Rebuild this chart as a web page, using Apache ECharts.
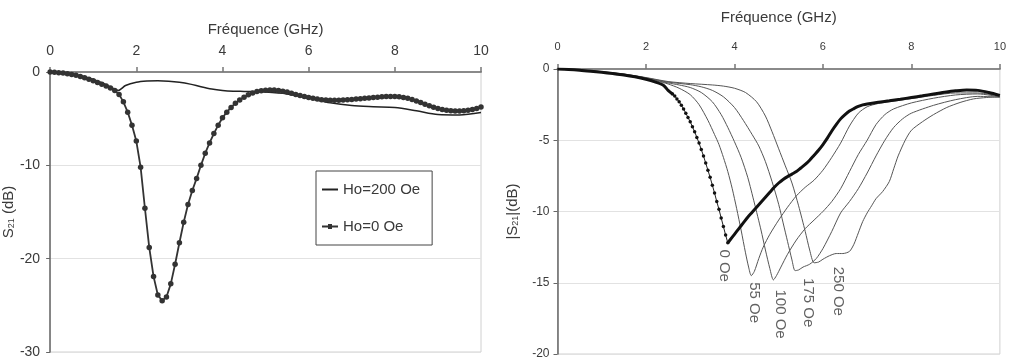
<!DOCTYPE html>
<html>
<head>
<meta charset="utf-8">
<script src="https://cdn.jsdelivr.net/npm/echarts@6/dist/echarts.min.js"></script>
<style>
html,body{margin:0;padding:0;background:#fff;}
#chart{width:1009px;height:362px;}
</style>
</head>
<body>
<div id="chart"></div>
<script>
// ---------- Left panel data (GHz, dB) ----------
const xTicksLeft = [0, 2, 4, 6, 8, 10];
const yTicksLeft = [0, -10, -20, -30];
const legendNames = ['Ho=200 Oe', 'Ho=0 Oe'];

const ho200 = [
  [0,0],[0.25,-0.05],[0.5,-0.2],[0.75,-0.45],[1.0,-0.8],[1.25,-1.25],[1.5,-1.85],[1.58,-1.97],
  [1.75,-1.45],[2.0,-1.1],[2.25,-0.97],[2.5,-0.93],[2.75,-0.98],[3.0,-1.1],[3.25,-1.3],
  [3.5,-1.58],[3.75,-1.82],[4.0,-1.97],[4.25,-2.05],[4.5,-2.08],[5.0,-2.15],[5.5,-2.35],
  [6.0,-2.8],[6.5,-3.3],[7.0,-3.6],[7.5,-3.72],[8.0,-3.8],[8.5,-4.15],[9.0,-4.55],[9.5,-4.6],[10.0,-4.35]
];

const ho0 = [
  [0.0,0],[0.1,-0.03],[0.2,-0.07],[0.3,-0.12],[0.4,-0.18],[0.5,-0.26],[0.6,-0.36],[0.7,-0.48],
  [0.8,-0.62],[0.9,-0.78],[1.0,-0.95],[1.1,-1.12],[1.2,-1.3],[1.3,-1.5],[1.4,-1.72],[1.5,-1.98],
  [1.6,-2.4],[1.7,-3.2],[1.8,-4.3],[1.9,-5.7],[2.0,-7.4],[2.1,-10.2],[2.2,-14.6],[2.3,-18.8],
  [2.4,-21.9],[2.5,-23.9],[2.6,-24.5],[2.7,-24.1],[2.8,-22.7],[2.9,-20.6],[3.0,-18.3],[3.1,-16.1],
  [3.2,-14.2],[3.3,-12.7],[3.4,-11.4],[3.5,-10.0],[3.6,-8.7],[3.7,-7.6],[3.8,-6.6],[3.9,-5.7],
  [4.0,-4.9],[4.1,-4.3],[4.2,-3.8],[4.3,-3.35],[4.4,-3.0],[4.5,-2.7],[4.6,-2.45],[4.7,-2.25],
  [4.8,-2.1],[4.9,-2.0],[5.0,-1.95],[5.1,-1.92],[5.2,-1.93],[5.3,-1.98],[5.4,-2.05],[5.5,-2.15],
  [5.6,-2.27],[5.7,-2.4],[5.8,-2.52],[5.9,-2.63],[6.0,-2.73],[6.1,-2.82],[6.2,-2.9],[6.3,-2.96],
  [6.4,-3.0],[6.5,-3.02],[6.6,-3.03],[6.7,-3.02],[6.8,-3.0],[6.9,-2.97],[7.0,-2.94],[7.1,-2.9],
  [7.2,-2.86],[7.3,-2.82],[7.4,-2.78],[7.5,-2.74],[7.6,-2.7],[7.7,-2.66],[7.8,-2.63],[7.9,-2.62],
  [8.0,-2.62],[8.1,-2.65],[8.2,-2.72],[8.3,-2.82],[8.4,-2.95],[8.5,-3.1],[8.6,-3.28],[8.7,-3.45],
  [8.8,-3.62],[8.9,-3.78],[9.0,-3.92],[9.1,-4.02],[9.2,-4.1],[9.3,-4.15],[9.4,-4.17],[9.5,-4.17],
  [9.6,-4.15],[9.7,-4.1],[9.8,-4.02],[9.9,-3.9],[10.0,-3.75]
];

// ---------- Right panel data (GHz, dB) ----------
const xTicksRight = [0, 2, 4, 6, 8, 10];
const yTicksRight = [0, -5, -10, -15, -20];

const zeroOeStart = [
  [0,0],[0.25,-0.03],[0.5,-0.08],[0.75,-0.15],[1.0,-0.23],[1.25,-0.32],[1.5,-0.42],
  [1.75,-0.55],[2.0,-0.72],[2.2,-0.9],[2.4,-1.15],[2.5,-1.5],[2.6,-1.75]
];
const zeroOeDip = [
  [2.6,-1.75],[2.65,-1.9],[2.7,-2.1],[2.75,-2.3],[2.8,-2.55],[2.85,-2.8],[2.9,-3.1],[2.95,-3.4],
  [3.0,-3.7],[3.05,-4.05],[3.1,-4.4],[3.15,-4.8],[3.2,-5.2],[3.25,-5.65],[3.3,-6.1],[3.35,-6.6],
  [3.4,-7.1],[3.45,-7.6],[3.5,-8.15],[3.55,-8.7],[3.6,-9.3],[3.65,-9.85],[3.7,-10.45],
  [3.75,-11.05],[3.8,-11.65],[3.85,-12.2]
];
const zeroOeRise = [
  [3.85,-12.2],[3.9,-12.0],[4.0,-11.6],[4.1,-11.2],[4.2,-10.8],[4.3,-10.4],[4.4,-10.05],[4.5,-9.7],
  [4.6,-9.35],[4.7,-9.0],[4.8,-8.65],[4.9,-8.3],[5.0,-8.0],[5.1,-7.75],[5.2,-7.55],[5.3,-7.38],
  [5.4,-7.2],[5.5,-6.95],[5.6,-6.7],[5.7,-6.4],[5.8,-6.05],[5.9,-5.7],[6.0,-5.3],[6.1,-4.85],
  [6.2,-4.35],[6.3,-3.9],[6.4,-3.5],[6.5,-3.2],[6.6,-2.95],[6.7,-2.78],[6.8,-2.63],[6.9,-2.52],
  [7.0,-2.45],[7.25,-2.33],[7.5,-2.23],[7.75,-2.12],[8.0,-2.0],[8.25,-1.88],[8.5,-1.75],
  [8.75,-1.63],[9.0,-1.53],[9.25,-1.47],[9.5,-1.5],[9.75,-1.65],[10.0,-1.85]
];
const oe55 = [
  [0,0],[0.5,-0.08],[1,-0.22],[1.5,-0.4],[2,-0.68],[2.25,-0.85],[2.5,-1.05],[2.75,-1.35],[3.0,-1.8],
  [3.2,-2.5],[3.4,-3.6],[3.55,-4.6],[3.65,-5.3],[3.75,-6.2],[3.85,-7.2],[3.95,-8.4],[4.05,-9.8],
  [4.15,-11.3],[4.25,-12.9],[4.32,-13.9],[4.38,-14.5],[4.45,-14.2],[4.55,-13.3],[4.65,-12.5],
  [4.8,-11.6],[5.0,-10.6],[5.2,-9.7],[5.4,-8.9],[5.6,-8.3],[5.8,-7.8],[6.0,-7.1],[6.2,-6.2],
  [6.4,-5.2],[6.6,-4.0],[6.8,-3.1],[7.0,-2.65],[7.25,-2.42],[7.5,-2.3],[8.0,-2.08],[8.5,-1.85],
  [9.0,-1.68],[9.5,-1.68],[10,-1.9]
];
const oe100 = [
  [0,0],[0.5,-0.08],[1,-0.2],[1.5,-0.38],[2,-0.65],[2.5,-0.98],[2.75,-1.12],[3.0,-1.3],[3.25,-1.65],
  [3.5,-2.3],[3.7,-3.2],[3.85,-4.1],[4.0,-5.1],[4.15,-6.2],[4.3,-7.6],[4.45,-9.4],[4.6,-11.3],
  [4.7,-12.7],[4.8,-14.0],[4.88,-14.8],[4.95,-14.5],[5.05,-13.9],[5.2,-13.0],[5.4,-12.0],
  [5.6,-11.2],[5.8,-10.6],[6.0,-10.0],[6.2,-9.3],[6.4,-8.4],[6.6,-7.2],[6.8,-6.0],[7.0,-5.0],
  [7.2,-3.9],[7.4,-3.2],[7.6,-2.8],[8.0,-2.38],[8.5,-2.05],[9.0,-1.82],[9.5,-1.75],[10,-1.95]
];
const oe175 = [
  [0,0],[0.5,-0.07],[1,-0.19],[1.5,-0.36],[2,-0.62],[2.5,-0.92],[3.0,-1.1],[3.25,-1.25],[3.5,-1.5],
  [3.75,-1.95],[4.0,-2.7],[4.2,-3.6],[4.4,-4.6],[4.55,-5.4],[4.7,-6.5],[4.85,-7.9],[5.0,-9.5],
  [5.1,-10.8],[5.2,-12.1],[5.3,-13.4],[5.37,-14.15],[5.45,-14.1],[5.55,-13.9],[5.7,-13.7],
  [5.85,-13.3],[6.0,-12.6],[6.2,-11.4],[6.4,-10.1],[6.6,-9.3],[6.8,-8.4],[7.0,-7.3],[7.2,-6.1],
  [7.4,-5.0],[7.6,-4.1],[7.8,-3.5],[8.0,-3.1],[8.5,-2.55],[9.0,-2.15],[9.5,-1.92],[10,-1.98]
];
const oe250 = [
  [0,0],[0.5,-0.07],[1,-0.18],[1.5,-0.35],[2,-0.6],[2.5,-0.88],[3.0,-1.02],[3.5,-1.12],[3.75,-1.2],
  [4.0,-1.35],[4.25,-1.65],[4.5,-2.3],[4.7,-3.3],[4.85,-4.4],[5.0,-5.6],[5.15,-6.8],[5.3,-8.0],
  [5.45,-9.6],[5.6,-11.4],[5.7,-12.7],[5.8,-13.6],[5.9,-13.55],[6.0,-13.35],[6.15,-13.1],
  [6.3,-12.95],[6.45,-12.95],[6.6,-12.8],[6.7,-12.3],[6.8,-11.5],[6.9,-10.7],[7.0,-10.1],
  [7.1,-9.6],[7.2,-9.1],[7.35,-8.6],[7.5,-7.9],[7.6,-7.0],[7.7,-6.1],[7.86,-5.0],[8.0,-4.3],
  [8.25,-3.7],[8.5,-3.2],[8.8,-2.7],[9.1,-2.35],[9.4,-2.1],[9.7,-2.0],[10,-1.95]
];
const curveLabelNames = ['0 Oe', '55 Oe', '100 Oe', '175 Oe', '250 Oe'];
const curveLabelX = [3.76, 4.45, 5.03, 5.67, 6.34];
const curveLabelY = [-13.8, -16.4, -17.2, -16.4, -15.6];

// ---------- Chart ----------
const FONT = '"Liberation Sans", Arial, sans-serif';
const TXT = '#3a3a3a';
const chart = echarts.init(document.getElementById('chart'), null, {renderer: 'canvas'});

function xAxisCfg(gridIndex, ticks, opts) {
  return {
    gridIndex, type: 'value', position: 'top',
    min: ticks[0], max: ticks[ticks.length - 1], interval: ticks[1] - ticks[0],
    name: 'Fréquence (GHz)', nameLocation: 'middle', nameGap: opts.nameGap,
    nameTextStyle: {fontFamily: FONT, fontSize: 15, color: TXT},
    axisLine: {show: true, onZero: false, lineStyle: {color: '#8a8a8a', width: 2}},
    axisTick: {show: true, length: 5, lineStyle: {color: '#777', width: 1.5}},
    axisLabel: {fontFamily: FONT, fontSize: opts.labelSize, color: TXT, margin: opts.margin},
    splitLine: {show: false}
  };
}
function yAxisCfg(gridIndex, ticks, opts) {
  return {
    gridIndex, type: 'value',
    min: ticks[ticks.length - 1], max: ticks[0], interval: ticks[0] - ticks[1],
    name: opts.name, nameLocation: 'middle', nameGap: opts.nameGap,
    nameTextStyle: {
      fontFamily: FONT, color: TXT,
      rich: {
        a: {fontFamily: FONT, fontSize: 15, color: TXT, lineHeight: 18, verticalAlign: 'bottom'},
        b: {fontFamily: FONT, fontSize: 9, color: TXT, lineHeight: 12, verticalAlign: 'bottom'}
      }
    },
    axisLine: {show: true, onZero: false, lineStyle: {color: '#666', width: 1.5}},
    axisTick: {show: true, length: 4, lineStyle: {color: '#666'}},
    axisLabel: {fontFamily: FONT, fontSize: opts.labelSize, color: TXT, margin: opts.margin},
    splitLine: {show: true, lineStyle: {color: '#e2e2e2', width: 1}}
  };
}

const option = {
  animation: false,
  backgroundColor: '#fff',
  grid: [
    {left: 50, top: 72, width: 431, height: 280, show: true, borderColor: '#d0d0d0', borderWidth: 1},
    {left: 557.5, top: 69, width: 448.5, height: 285, show: true, borderColor: '#d0d0d0', borderWidth: 1}
  ],
  xAxis: [
    xAxisCfg(0, xTicksLeft, {nameGap: 35, labelSize: 14, margin: 14}),
    xAxisCfg(1, xTicksRight, {nameGap: 44, labelSize: 11, margin: 17})
  ],
  yAxis: [
    yAxisCfg(0, yTicksLeft, {name: '{a|S}{b|21}{a| (dB)}', nameGap: 27, labelSize: 14, margin: 10}),
    yAxisCfg(1, yTicksRight, {name: '{a||S}{b|21}{a||(dB)}', nameGap: 37, labelSize: 12, margin: 8})
  ],
  legend: {
    data: [
      {name: legendNames[0], icon: 'path://M0,0 L16,0 L16,2 L0,2 Z'},
      {name: legendNames[1], icon: 'path://M0,1.5 L16,1.5 L16,3.5 L0,3.5 Z M6,0 L10,0 L10,5 L6,5 Z'}
    ],
    symbolKeepAspect: true,
    orient: 'vertical', left: 316, top: 171,
    padding: [11, 12, 11, 6], itemGap: 22, itemWidth: 16, itemHeight: 12,
    backgroundColor: '#fff', borderColor: '#444', borderWidth: 1,
    textStyle: {fontFamily: FONT, fontSize: 15, color: TXT}
  },
  series: [
    {name: legendNames[0], type: 'line', xAxisIndex: 0, yAxisIndex: 0, data: ho200,
     smooth: 0.3, symbol: 'none', lineStyle: {color: '#222', width: 1.5}, itemStyle: {color: '#222'}, z: 3},
    {name: legendNames[1], type: 'line', xAxisIndex: 0, yAxisIndex: 0, data: ho0,
     symbol: 'circle', symbolSize: 5.5, showAllSymbol: true,
     lineStyle: {color: '#333', width: 1.8}, itemStyle: {color: '#333'}, z: 4},

    {name: '55 Oe', type: 'line', xAxisIndex: 1, yAxisIndex: 1, data: oe55, smooth: 0.25, symbol: 'none',
     lineStyle: {color: '#555', width: 1}},
    {name: '100 Oe', type: 'line', xAxisIndex: 1, yAxisIndex: 1, data: oe100, smooth: 0.25, symbol: 'none',
     lineStyle: {color: '#555', width: 1}},
    {name: '175 Oe', type: 'line', xAxisIndex: 1, yAxisIndex: 1, data: oe175, smooth: 0.25, symbol: 'none',
     lineStyle: {color: '#555', width: 1}},
    {name: '250 Oe', type: 'line', xAxisIndex: 1, yAxisIndex: 1, data: oe250, smooth: 0.25, symbol: 'none',
     lineStyle: {color: '#555', width: 1}},
    {name: '0 Oe a', type: 'line', xAxisIndex: 1, yAxisIndex: 1, data: zeroOeStart, smooth: 0.3, symbol: 'none',
     lineStyle: {color: '#111', width: 3}, z: 5},
    {name: '0 Oe b', type: 'line', xAxisIndex: 1, yAxisIndex: 1, data: zeroOeDip, symbol: 'circle', symbolSize: 3.5,
     showAllSymbol: true, lineStyle: {color: '#222', width: 1}, itemStyle: {color: '#111'}, z: 5},
    {name: '0 Oe c', type: 'line', xAxisIndex: 1, yAxisIndex: 1, data: zeroOeRise, smooth: 0.3, symbol: 'none',
     lineStyle: {color: '#111', width: 3}, z: 5},
    {name: 'labels', type: 'scatter', xAxisIndex: 1, yAxisIndex: 1, symbolSize: 1,
     itemStyle: {color: 'rgba(0,0,0,0)'}, z: 6,
     data: curveLabelNames.map((n, i) => ({name: n, value: [curveLabelX[i], curveLabelY[i]]})),
     label: {show: true, position: 'inside', rotate: -90, formatter: '{b}',
             fontFamily: FONT, fontSize: 15, color: TXT}}
  ]
};
chart.setOption(option);
</script>
</body>
</html>
